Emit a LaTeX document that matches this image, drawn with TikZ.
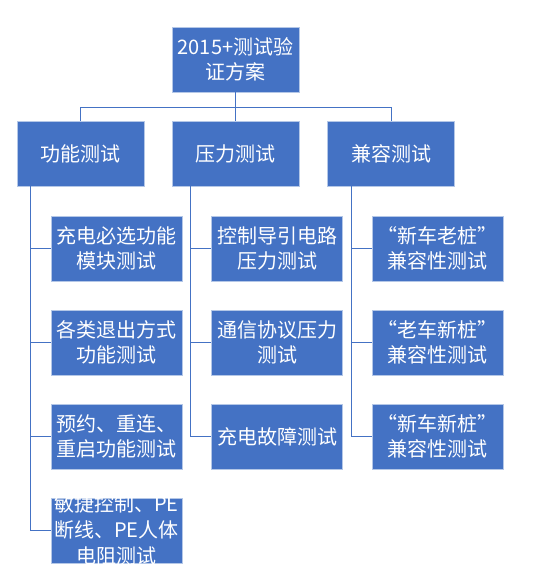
\documentclass[tikz,border=0pt]{standalone}
\usepackage{fontspec}
\setmainfont{Noto Sans CJK SC}
\definecolor{boxblue}{HTML}{4472C4}
\definecolor{edgeblue}{HTML}{B4C7E7}
\begin{document}
\begin{tikzpicture}[x=1pt,y=-1pt,
  box/.style={rectangle,fill=boxblue,draw=edgeblue,line width=0.6pt,text=white,
    font=\fontsize{20}{25}\selectfont,align=center,inner sep=0pt,
    minimum width=127pt,minimum height=65pt},
  child/.style={box,minimum width=131pt},
  conn/.style={draw=boxblue,line width=1pt}]
\useasboundingbox (0,0) rectangle (541,578);
% root and level 1
\node[box] (root) at (235.5,59.5) {2015+测试验\\证方案};
\node[box] (func) at (80.5,153.5) {功能测试};
\node[box] (press) at (235.5,153.5) {压力测试};
\node[box] (comp) at (391,153.5) {兼容测试};
% children column 1
\node[child] (f1) at (116.5,248.5) {充电必选功能\\模块测试};
\node[child] (f2) at (116.5,342.5) {各类退出方式\\功能测试};
\node[child] (f3) at (116.5,436.5) {预约、重连、\\重启功能测试};
\node[child] (f4) at (116.5,530.5) {};
\begin{scope}
\clip (f4.south west) rectangle (f4.north east);
\node[text=white,font=\fontsize{20}{26}\selectfont,align=center,inner sep=0pt] (f4t) at (116.5,530) {敏捷控制、PE\\断线、PE人体\\电阻测试};
\end{scope}
% children column 2
\node[child] (p1) at (277,248.5) {控制导引电路\\压力测试};
\node[child] (p2) at (277,342.5) {通信协议压力\\测试};
\node[child] (p3) at (277,436.5) {充电故障测试};
% children column 3
\node[child] (c1) at (437.5,248.5) {“新车老桩”\\兼容性测试};
\node[child] (c2) at (437.5,342.5) {“老车新桩”\\兼容性测试};
\node[child] (c3) at (437.5,436.5) {“新车新桩”\\兼容性测试};
% bus
\coordinate (busL) at (80.5,107);
\coordinate (busR) at (391,107);
\draw[conn] (root.south) -- (press.north);
\draw[conn] (func.north) -- (busL) -- (busR) -- (comp.north);
% trunks
\draw[conn] (func.south -| 30,0) |- (f4.west);
\draw[conn] (30,0 |- f1.west) -- (f1.west);
\draw[conn] (30,0 |- f2.west) -- (f2.west);
\draw[conn] (30,0 |- f3.west) -- (f3.west);
\draw[conn] (press.south -| 190.5,0) |- (p3.west);
\draw[conn] (190.5,0 |- p1.west) -- (p1.west);
\draw[conn] (190.5,0 |- p2.west) -- (p2.west);
\draw[conn] (comp.south -| 351,0) |- (c3.west);
\draw[conn] (351,0 |- c1.west) -- (c1.west);
\draw[conn] (351,0 |- c2.west) -- (c2.west);
\end{tikzpicture}
\end{document}
